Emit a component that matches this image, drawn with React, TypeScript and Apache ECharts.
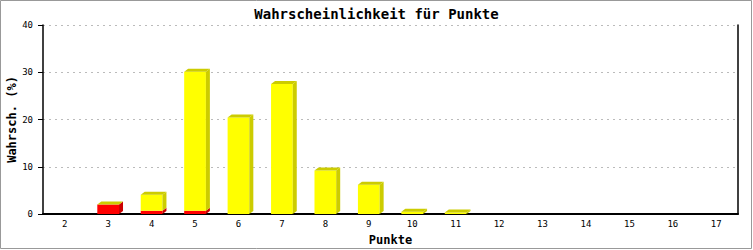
import React, { useEffect, useRef } from "react";
import * as echarts from "echarts";

const categories = ["2", "3", "4", "5", "6", "7", "8", "9", "10", "11", "12", "13", "14", "15", "16", "17"];
const redValues = [0, 2.0, 0.7, 0.7, 0, 0, 0, 0, 0, 0, 0, 0, 0, 0, 0, 0];
const yellowValues = [0, 0, 3.4, 29.4, 20.4, 27.5, 9.2, 6.2, 0.5, 0.3, 0, 0, 0, 0, 0, 0];
const yTicks = { min: 0, max: 40, interval: 10 };
const titleText = "Wahrscheinlichkeit für Punkte";
const xName = "Punkte";
const yName = "Wahrsch. (%)";

const FONT = "'DejaVu Sans Mono', monospace";

export default function App() {
  const ref = useRef<HTMLDivElement>(null);
  useEffect(() => {
    document.body.style.margin = "0";
    const chart = echarts.init(ref.current!, null, { renderer: "svg" });
    const data = categories.map((_, i) => [i, redValues[i], yellowValues[i]]);
    const DX = 4;
    const DY = 3;
    const renderItem = (params: any, api: any) => {
      const idx = api.value(0);
      const r = api.value(1);
      const y = api.value(2);
      if (r + y <= 0) return { type: "group", children: [] };
      const band = api.size([1, 0])[0];
      const w = band * 0.5;
      const base = api.coord([idx, 0]);
      const x0 = base[0] - w / 2;
      const yb = base[1];
      const yr = api.coord([idx, r])[1];
      const yt = api.coord([idx, r + y])[1];
      const children: any[] = [];
      const seg = (top: number, bot: number, front: string, side: string) => {
        if (bot - top > 0.01) {
          children.push({
            type: "rect",
            shape: { x: x0, y: top, width: w, height: bot - top },
            style: { fill: front },
          });
          children.push({
            type: "polygon",
            shape: {
              points: [
                [x0 + w, bot],
                [x0 + w + DX, bot - DY],
                [x0 + w + DX, top - DY],
                [x0 + w, top],
              ],
            },
            style: { fill: side },
          });
        }
      };
      seg(yr, yb, "#ff0000", "#cc0000");
      seg(yt, yr, "#ffff00", "#cccc00");
      children.push({
        type: "polygon",
        shape: {
          points: [
            [x0, yt],
            [x0 + DX, yt - DY],
            [x0 + w + DX, yt - DY],
            [x0 + w, yt],
          ],
        },
        style: { fill: "#cccc00" },
      });
      return { type: "group", children };
    };

    chart.setOption({
      animation: false,
      backgroundColor: "#ffffff",
      title: {
        text: titleText,
        left: "center",
        top: 2,
        textStyle: { fontFamily: FONT, fontSize: 14, fontWeight: "bold", color: "#000" },
      },
      graphic: [
        {
          type: "rect",
          shape: { x: 0.5, y: 0.5, width: 751, height: 248 },
          style: { fill: "none", stroke: "#999999", lineWidth: 1 },
          silent: true,
        },
      ],
      grid: { left: 43, right: 15, top: 25, bottom: 36, containLabel: false, outerBoundsMode: "none" },
      xAxis: {
        type: "category",
        data: categories,
        name: xName,
        nameLocation: "middle",
        nameGap: 20,
        nameMoveOverlap: false,
        nameTextStyle: { fontFamily: FONT, fontSize: 12, fontWeight: "bold", color: "#000" },
        axisLine: { lineStyle: { color: "#000", width: 2 } },
        axisTick: { show: false },
        axisLabel: { fontFamily: FONT, fontSize: 9, color: "#000", margin: 5 },
        splitLine: { show: false },
      },
      yAxis: [
        {
          type: "value",
          min: yTicks.min,
          max: yTicks.max,
          interval: yTicks.interval,
          name: yName,
          nameLocation: "middle",
          nameGap: 25,
          nameMoveOverlap: false,
          nameTextStyle: { fontFamily: FONT, fontSize: 12, fontWeight: "bold", color: "#000" },
          axisLine: { show: true, lineStyle: { color: "#000", width: 1.5 } },
          axisTick: { show: true, length: 5, lineStyle: { color: "#000" } },
          axisLabel: { fontFamily: FONT, fontSize: 9, color: "#000", margin: 10 },
          splitLine: { show: true, lineStyle: { color: "#bbbbbb", type: [2, 4] } },
        },
        {
          type: "value",
          min: yTicks.min,
          max: yTicks.max,
          interval: yTicks.interval,
          position: "right",
          axisLine: { show: true, lineStyle: { color: "#000", width: 1.5 } },
          axisTick: { show: false },
          axisLabel: { show: false },
          splitLine: { show: false },
        },
      ],
      series: [
        {
          type: "custom",
          renderItem,
          data,
          encode: { x: 0, y: [1, 2] },
          clip: false,
          z: 3,
        },
      ],
    });
    return () => chart.dispose();
  }, []);
  return <div ref={ref} style={{ width: 753, height: 250 }} />;
}
